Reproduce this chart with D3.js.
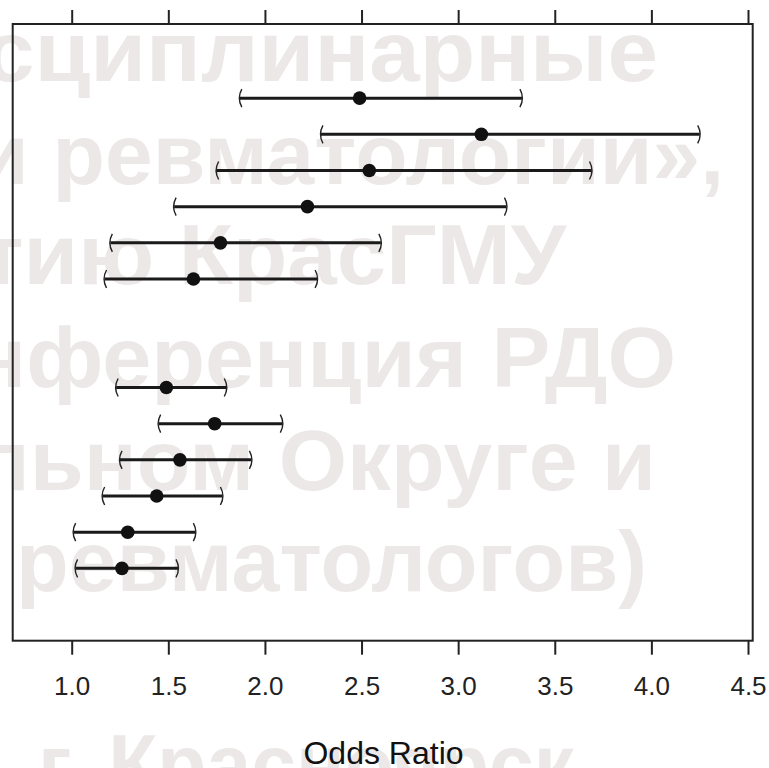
<!DOCTYPE html>
<html>
<head>
<meta charset="utf-8">
<script src="https://cdn.jsdelivr.net/npm/d3@7"></script>
<style>
  html, body { margin: 0; padding: 0; background: #ffffff; }
  svg { display: block; }
</style>
</head>
<body>
<svg id="chart" width="769" height="768"></svg>
<script>
// ---- Data ----
const rowSlots  = [0, 1, 2, 3, 4, 5, 8, 9, 10, 11, 12, 13];
const oddsRatio = [2.49, 3.12, 2.54, 2.22, 1.77, 1.63, 1.49, 1.74, 1.56, 1.44, 1.29, 1.26];
const ciLower   = [1.87, 2.29, 1.75, 1.53, 1.20, 1.17, 1.23, 1.45, 1.25, 1.16, 1.01, 1.02];
const ciUpper   = [3.33, 4.25, 3.69, 3.25, 2.60, 2.27, 1.80, 2.09, 1.93, 1.78, 1.64, 1.55];
const xTicks    = [1.0, 1.5, 2.0, 2.5, 3.0, 3.5, 4.0, 4.5];
const xLabel    = "Odds Ratio";
const watermarkLines = [
  "сциплинарные",
  "и ревматологии»,",
  "тию КрасГМУ",
  "нференция РДО",
  "льном Округе и",
  "ревматологов)",
  "г. Красноярск"
];

// ---- Layout ----
const svg = d3.select("#chart");
const W = 769, H = 768;
const frame = { left: 12.7, right: 752.7, top: 24, bottom: 640.7 };

const x = d3.scaleLinear().domain([1, 4.5]).range([71.7, 748]);
const y = d3.scaleLinear().domain([-2.05, 15]).range([frame.top, frame.bottom]);

svg.append("rect").attr("width", W).attr("height", H).attr("fill", "#fff");

// ---- Watermark (beneath) ----
const wmLayout = [
  { x0: -16, x1: 658, y: 81 },
  { x0: -24, x1: 724, y: 184 },
  { x0: -20, x1: 566, y: 284 },
  { x0: -27, x1: 676, y: 387 },
  { x0: -26, x1: 656, y: 490 },
  { x0: 16,  x1: 647, y: 591 },
  { x0: 38,  x1: 574, y: 794 }
];
svg.append("g").selectAll("text")
  .data(watermarkLines)
  .join("text")
  .attr("x", (d, i) => wmLayout[i].x0)
  .attr("y", (d, i) => wmLayout[i].y)
  .attr("textLength", (d, i) => wmLayout[i].x1 - wmLayout[i].x0)
  .attr("lengthAdjust", "spacingAndGlyphs")
  .attr("font-family", "'Liberation Sans', Arial, sans-serif")
  .attr("font-weight", "bold")
  .attr("font-size", 85)
  .attr("fill", "#ece8e8")
  .text(d => d);

// ---- Frame ----
svg.append("rect")
  .attr("x", frame.left).attr("y", frame.top)
  .attr("width", frame.right - frame.left)
  .attr("height", frame.bottom - frame.top)
  .attr("fill", "none")
  .attr("stroke", "#222")
  .attr("stroke-width", 2);

// ---- Axes ----
const bottomAxis = d3.axisBottom(x).tickValues(xTicks).tickFormat(d3.format(".1f"))
  .tickSizeInner(14).tickSizeOuter(0).tickPadding(22);
const gB = svg.append("g").attr("transform", `translate(0,${frame.bottom})`).call(bottomAxis);
gB.select(".domain").remove();
gB.selectAll(".tick line").attr("stroke", "#222").attr("stroke-width", 2);
gB.selectAll(".tick text")
  .attr("font-family", "'Liberation Sans', Arial, sans-serif")
  .attr("font-size", 26)
  .attr("fill", "#222");

const topAxis = d3.axisTop(x).tickValues(xTicks).tickFormat("")
  .tickSizeInner(14).tickSizeOuter(0);
const gT = svg.append("g").attr("transform", `translate(0,${frame.top})`).call(topAxis);
gT.select(".domain").remove();
gT.selectAll(".tick line").attr("stroke", "#222").attr("stroke-width", 2);

svg.append("text")
  .attr("x", 383.5)
  .attr("y", 764)
  .attr("text-anchor", "middle")
  .attr("font-family", "'Liberation Sans', Arial, sans-serif")
  .attr("font-size", 32)
  .attr("fill", "#111")
  .text(xLabel);

// ---- Error bars ----
const data = rowSlots.map((s, i) => ({ slot: s, or: oddsRatio[i], lo: ciLower[i], hi: ciUpper[i] }));
const g = svg.append("g");

g.selectAll("line.ci")
  .data(data).join("line")
  .attr("class", "ci")
  .attr("x1", d => x(d.lo)).attr("x2", d => x(d.hi))
  .attr("y1", d => y(d.slot)).attr("y2", d => y(d.slot))
  .attr("stroke", "#1a1a1a").attr("stroke-width", 3);

const capH = 9;
g.selectAll("path.capL")
  .data(data).join("path")
  .attr("class", "capL")
  .attr("d", d => {
    const cx = x(d.lo), cy = y(d.slot);
    return `M${cx + 2},${cy - capH} Q${cx - 3},${cy} ${cx + 2},${cy + capH}`;
  })
  .attr("fill", "none").attr("stroke", "#222").attr("stroke-width", 1.4);

g.selectAll("path.capR")
  .data(data).join("path")
  .attr("class", "capR")
  .attr("d", d => {
    const cx = x(d.hi), cy = y(d.slot);
    return `M${cx - 2},${cy - capH} Q${cx + 3},${cy} ${cx - 2},${cy + capH}`;
  })
  .attr("fill", "none").attr("stroke", "#222").attr("stroke-width", 1.4);

g.selectAll("circle.pt")
  .data(data).join("circle")
  .attr("class", "pt")
  .attr("cx", d => x(d.or))
  .attr("cy", d => y(d.slot))
  .attr("r", 6.8)
  .attr("fill", "#111");
</script>
</body>
</html>
